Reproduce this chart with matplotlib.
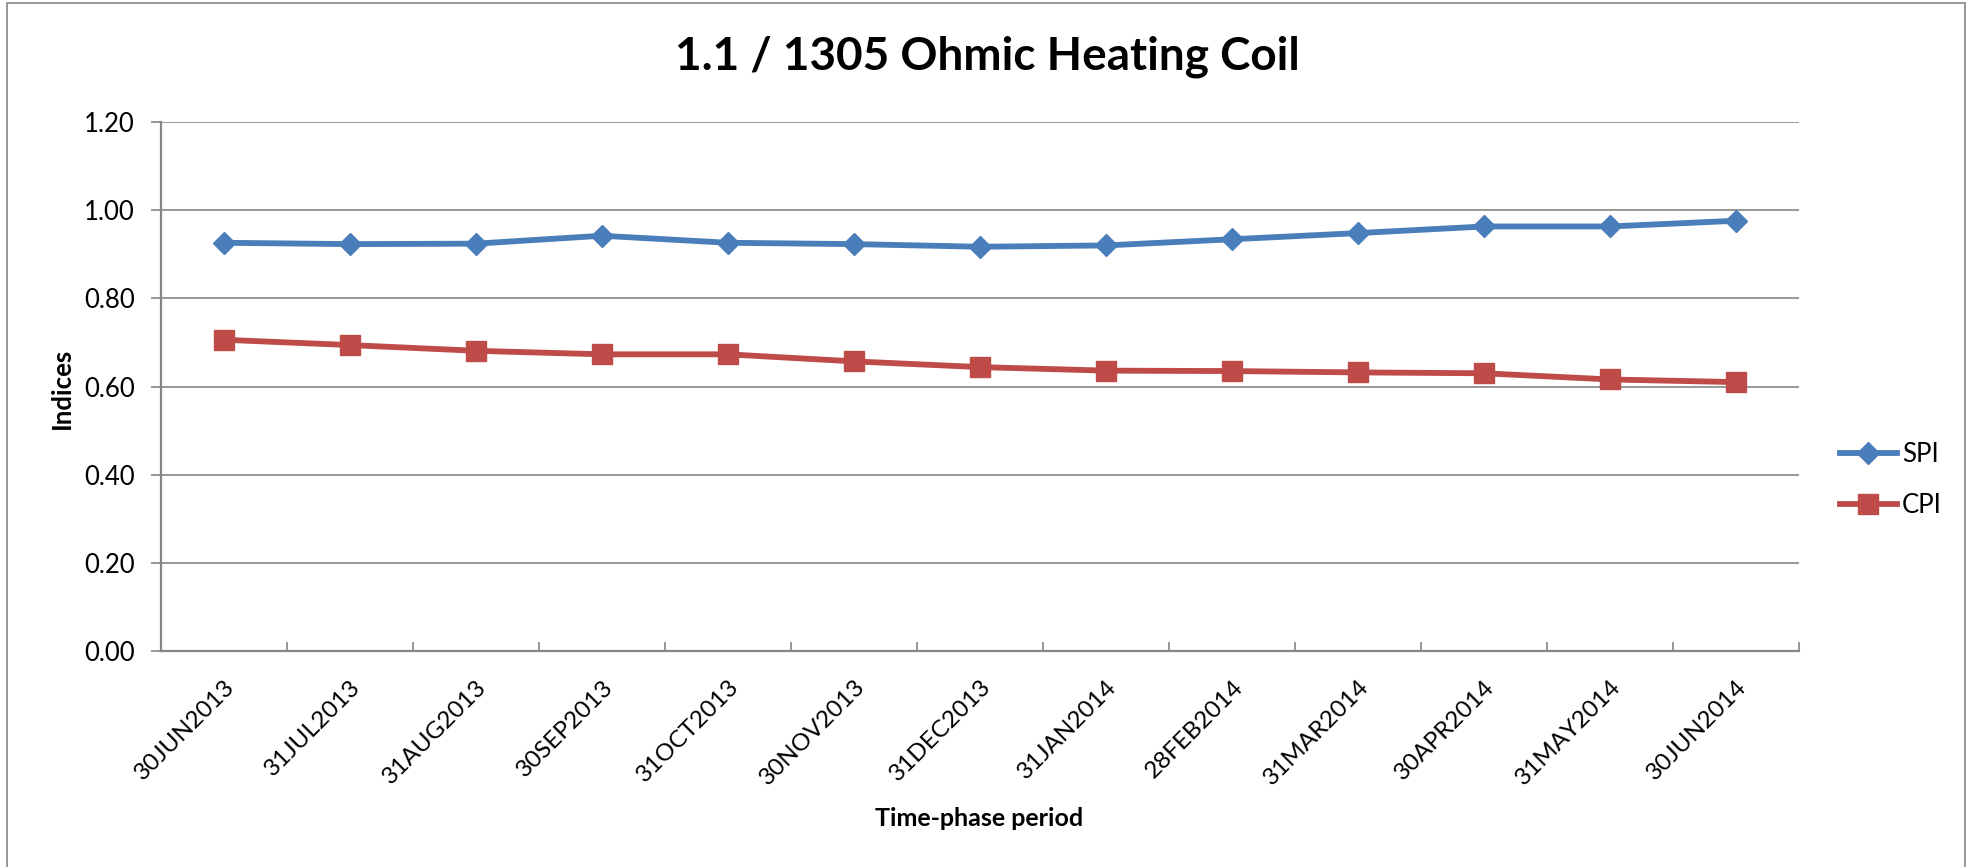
import matplotlib
matplotlib.use('Agg')
from matplotlib import pyplot as plt
from matplotlib.patches import Rectangle
from matplotlib.ticker import FixedLocator, FormatStrFormatter
from matplotlib.transforms import ScaledTranslation

# Data
periods = ['30JUN2013', '31JUL2013', '31AUG2013', '30SEP2013', '31OCT2013',
           '30NOV2013', '31DEC2013', '31JAN2014', '28FEB2014', '31MAR2014',
           '30APR2014', '31MAY2014', '30JUN2014']
spi = [0.926, 0.923, 0.924, 0.942, 0.926, 0.923, 0.917,
       0.920, 0.934, 0.948, 0.963, 0.963, 0.976]
cpi = [0.706, 0.694, 0.681, 0.673, 0.673, 0.657, 0.644,
       0.636, 0.635, 0.632, 0.630, 0.616, 0.610]
y_ticks = [0.0, 0.2, 0.4, 0.6, 0.8, 1.0, 1.2]

plt.rcParams['font.family'] = ['Lato', 'DejaVu Sans']
grey = '#868686'

fig = plt.figure(figsize=(19.75, 8.67), dpi=100)
ax = fig.add_axes([0.0815, 0.2491, 0.9109 - 0.0815, 0.8593 - 0.2491])

x = list(range(len(periods)))
ax.plot(x, spi, color='#4A7EBB', linewidth=4.2, marker='D', markersize=11,
        markeredgewidth=1, markeredgecolor='#4A7EBB', label='SPI')
ax.plot(x, cpi, color='#BE4B48', linewidth=4.2, marker='s', markersize=14.5,
        markeredgewidth=1, markeredgecolor='#BE4B48', label='CPI')

ax.set_xlim(-0.5, len(periods) - 0.5)
ax.set_ylim(0, 1.2)
ax.set_yticks(y_ticks)
ax.yaxis.set_major_formatter(FormatStrFormatter('%.2f'))
ax.grid(axis='y', color=grey, linewidth=1.2)
ax.set_axisbelow(True)

ax.set_xticks(x)
ax.set_xticklabels(periods, rotation=45, ha='right', va='top',
                   rotation_mode='anchor')
shift = ScaledTranslation(-6 / 100, 0, fig.dpi_scale_trans)
for lbl in ax.get_xticklabels():
    lbl.set_transform(lbl.get_transform() + shift)
ax.xaxis.set_minor_locator(FixedLocator([i - 0.5 for i in range(len(periods) + 1)]))
ax.tick_params(axis='x', which='major', length=0, pad=18, labelsize=17.5)
ax.tick_params(axis='x', which='minor', direction='in', length=6.5,
               width=1.2, color=grey)
ax.tick_params(axis='y', which='major', length=7, width=1.2, color=grey,
               pad=12, labelsize=18.5)

for s in ['top', 'right']:
    ax.spines[s].set_visible(False)
for s in ['left', 'bottom']:
    ax.spines[s].set_color(grey)
    ax.spines[s].set_linewidth(1.6)

fig.text(0.4997, 1 - 57 / 867, '1.1 / 1305 Ohmic Heating Coil',
         ha='center', va='center', fontsize=33, fontweight='bold')
fig.text(62 / 1975, 1 - 388 / 867, 'Indices', rotation=90,
         ha='center', va='center', fontsize=18.5, fontweight='bold')
fig.text(979 / 1975, 1 - 819 / 867, 'Time-phase period',
         ha='center', va='center', fontsize=18, fontweight='bold')

fig.legend(loc='center left', bbox_to_anchor=(1840 / 1975, 1 - 480 / 867),
           frameon=False, fontsize=18.5, handlelength=2.2, handletextpad=0.2,
           labelspacing=1.0, borderpad=0, borderaxespad=0)

# outer chart border
fig.patches.append(Rectangle((7 / 1975, -0.01), (1965 - 7) / 1975,
                             1 - 3 / 867 + 0.01, transform=fig.transFigure,
                             fill=False, edgecolor=grey, linewidth=1.2))

fig.savefig('out.png', dpi=100)
